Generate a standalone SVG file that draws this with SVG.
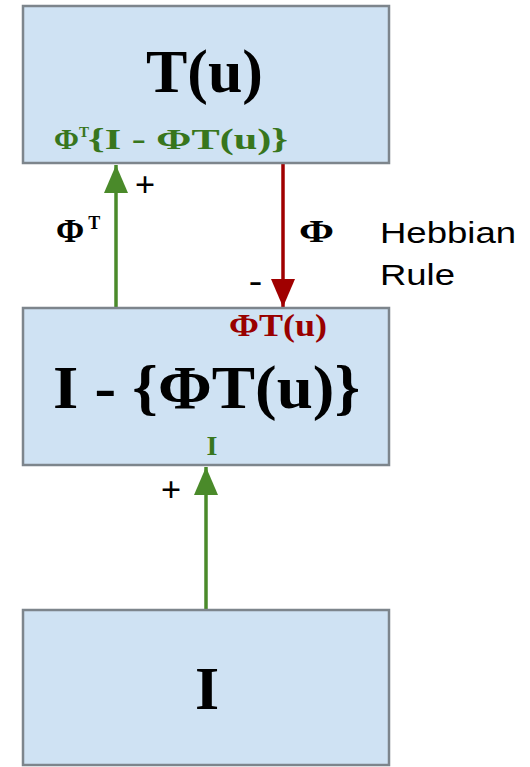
<svg xmlns="http://www.w3.org/2000/svg" width="530" height="767" viewBox="0 0 530 767">
<style>
.box{fill:#cfe2f3;stroke:#7d858c;stroke-width:2.5}
.serif{font-family:"Liberation Serif","Times New Roman",serif;font-weight:bold}
.sans{font-family:"Liberation Sans",Arial,sans-serif;fill:#000}
.g{fill:#38761d}
.r{fill:#990000}
.k{fill:#000}
.gl{stroke:#4a8a2a;stroke-width:3.5;fill:none}
.rl{stroke:#a00000;stroke-width:3.5;fill:none}
</style>
<defs>
<marker id="ag" markerUnits="userSpaceOnUse" markerWidth="30" markerHeight="30" viewBox="0 0 30 24" refX="28" refY="12" orient="auto"><path d="M0,0 L28,12 L0,24 Z" fill="#4a8a2a"/></marker>
<marker id="ar" markerUnits="userSpaceOnUse" markerWidth="30" markerHeight="30" viewBox="0 0 30 24" refX="28" refY="12" orient="auto"><path d="M0,0 L28,12 L0,24 Z" fill="#a00000"/></marker>
</defs>
<g id="connectors">
<line class="gl" x1="116" y1="308" x2="116" y2="165" marker-end="url(#ag)"/>
<line class="rl" x1="283" y1="163" x2="283" y2="307" marker-end="url(#ar)"/>
<line class="gl" x1="206" y1="610" x2="206" y2="467" marker-end="url(#ag)"/>
<text class="serif k" x="145" y="197" font-size="36" text-anchor="middle">+</text>
<text class="serif k" x="56" y="242" font-size="34">Φ<tspan dx="4" dy="-13" font-size="18">T</tspan></text>
<text class="serif k" x="299" y="242" font-size="32" textLength="35" lengthAdjust="spacingAndGlyphs">Φ</text>
<text class="serif k" x="249" y="291" font-size="32" textLength="13" lengthAdjust="spacingAndGlyphs">-</text>
<text class="sans" x="380" y="243" font-size="30" textLength="136" lengthAdjust="spacingAndGlyphs">Hebbian</text>
<text class="sans" x="380" y="285" font-size="30" textLength="75" lengthAdjust="spacingAndGlyphs">Rule</text>
<text class="serif k" x="171" y="502" font-size="36" text-anchor="middle">+</text>
</g>
<g id="node-Tu">
<rect class="box" x="23" y="6" width="366" height="157"/>
<text class="serif k" x="146" y="92" font-size="62" textLength="117" lengthAdjust="spacingAndGlyphs">T(u)</text>
<text class="serif g" x="54" y="149" font-size="30">Φ<tspan dy="-12" font-size="15">T</tspan></text>
<text class="serif g" x="88" y="149" font-size="30" textLength="200" lengthAdjust="spacingAndGlyphs">{I - ΦT(u)}</text>
</g>
<g id="node-residual">
<rect class="box" x="23" y="308" width="366" height="157"/>
<text class="serif r" x="229" y="336" font-size="32" textLength="98" lengthAdjust="spacingAndGlyphs">ΦT(u)</text>
<text class="serif k" x="53" y="408" font-size="62" textLength="307" lengthAdjust="spacingAndGlyphs">I - {ΦT(u)}</text>
<text class="serif g" x="212" y="455" font-size="28" text-anchor="middle">I</text>
</g>
<g id="node-I">
<rect class="box" x="23" y="610" width="366" height="155"/>
<text class="serif k" x="207" y="709" font-size="62" text-anchor="middle">I</text>
</g>
</svg>
